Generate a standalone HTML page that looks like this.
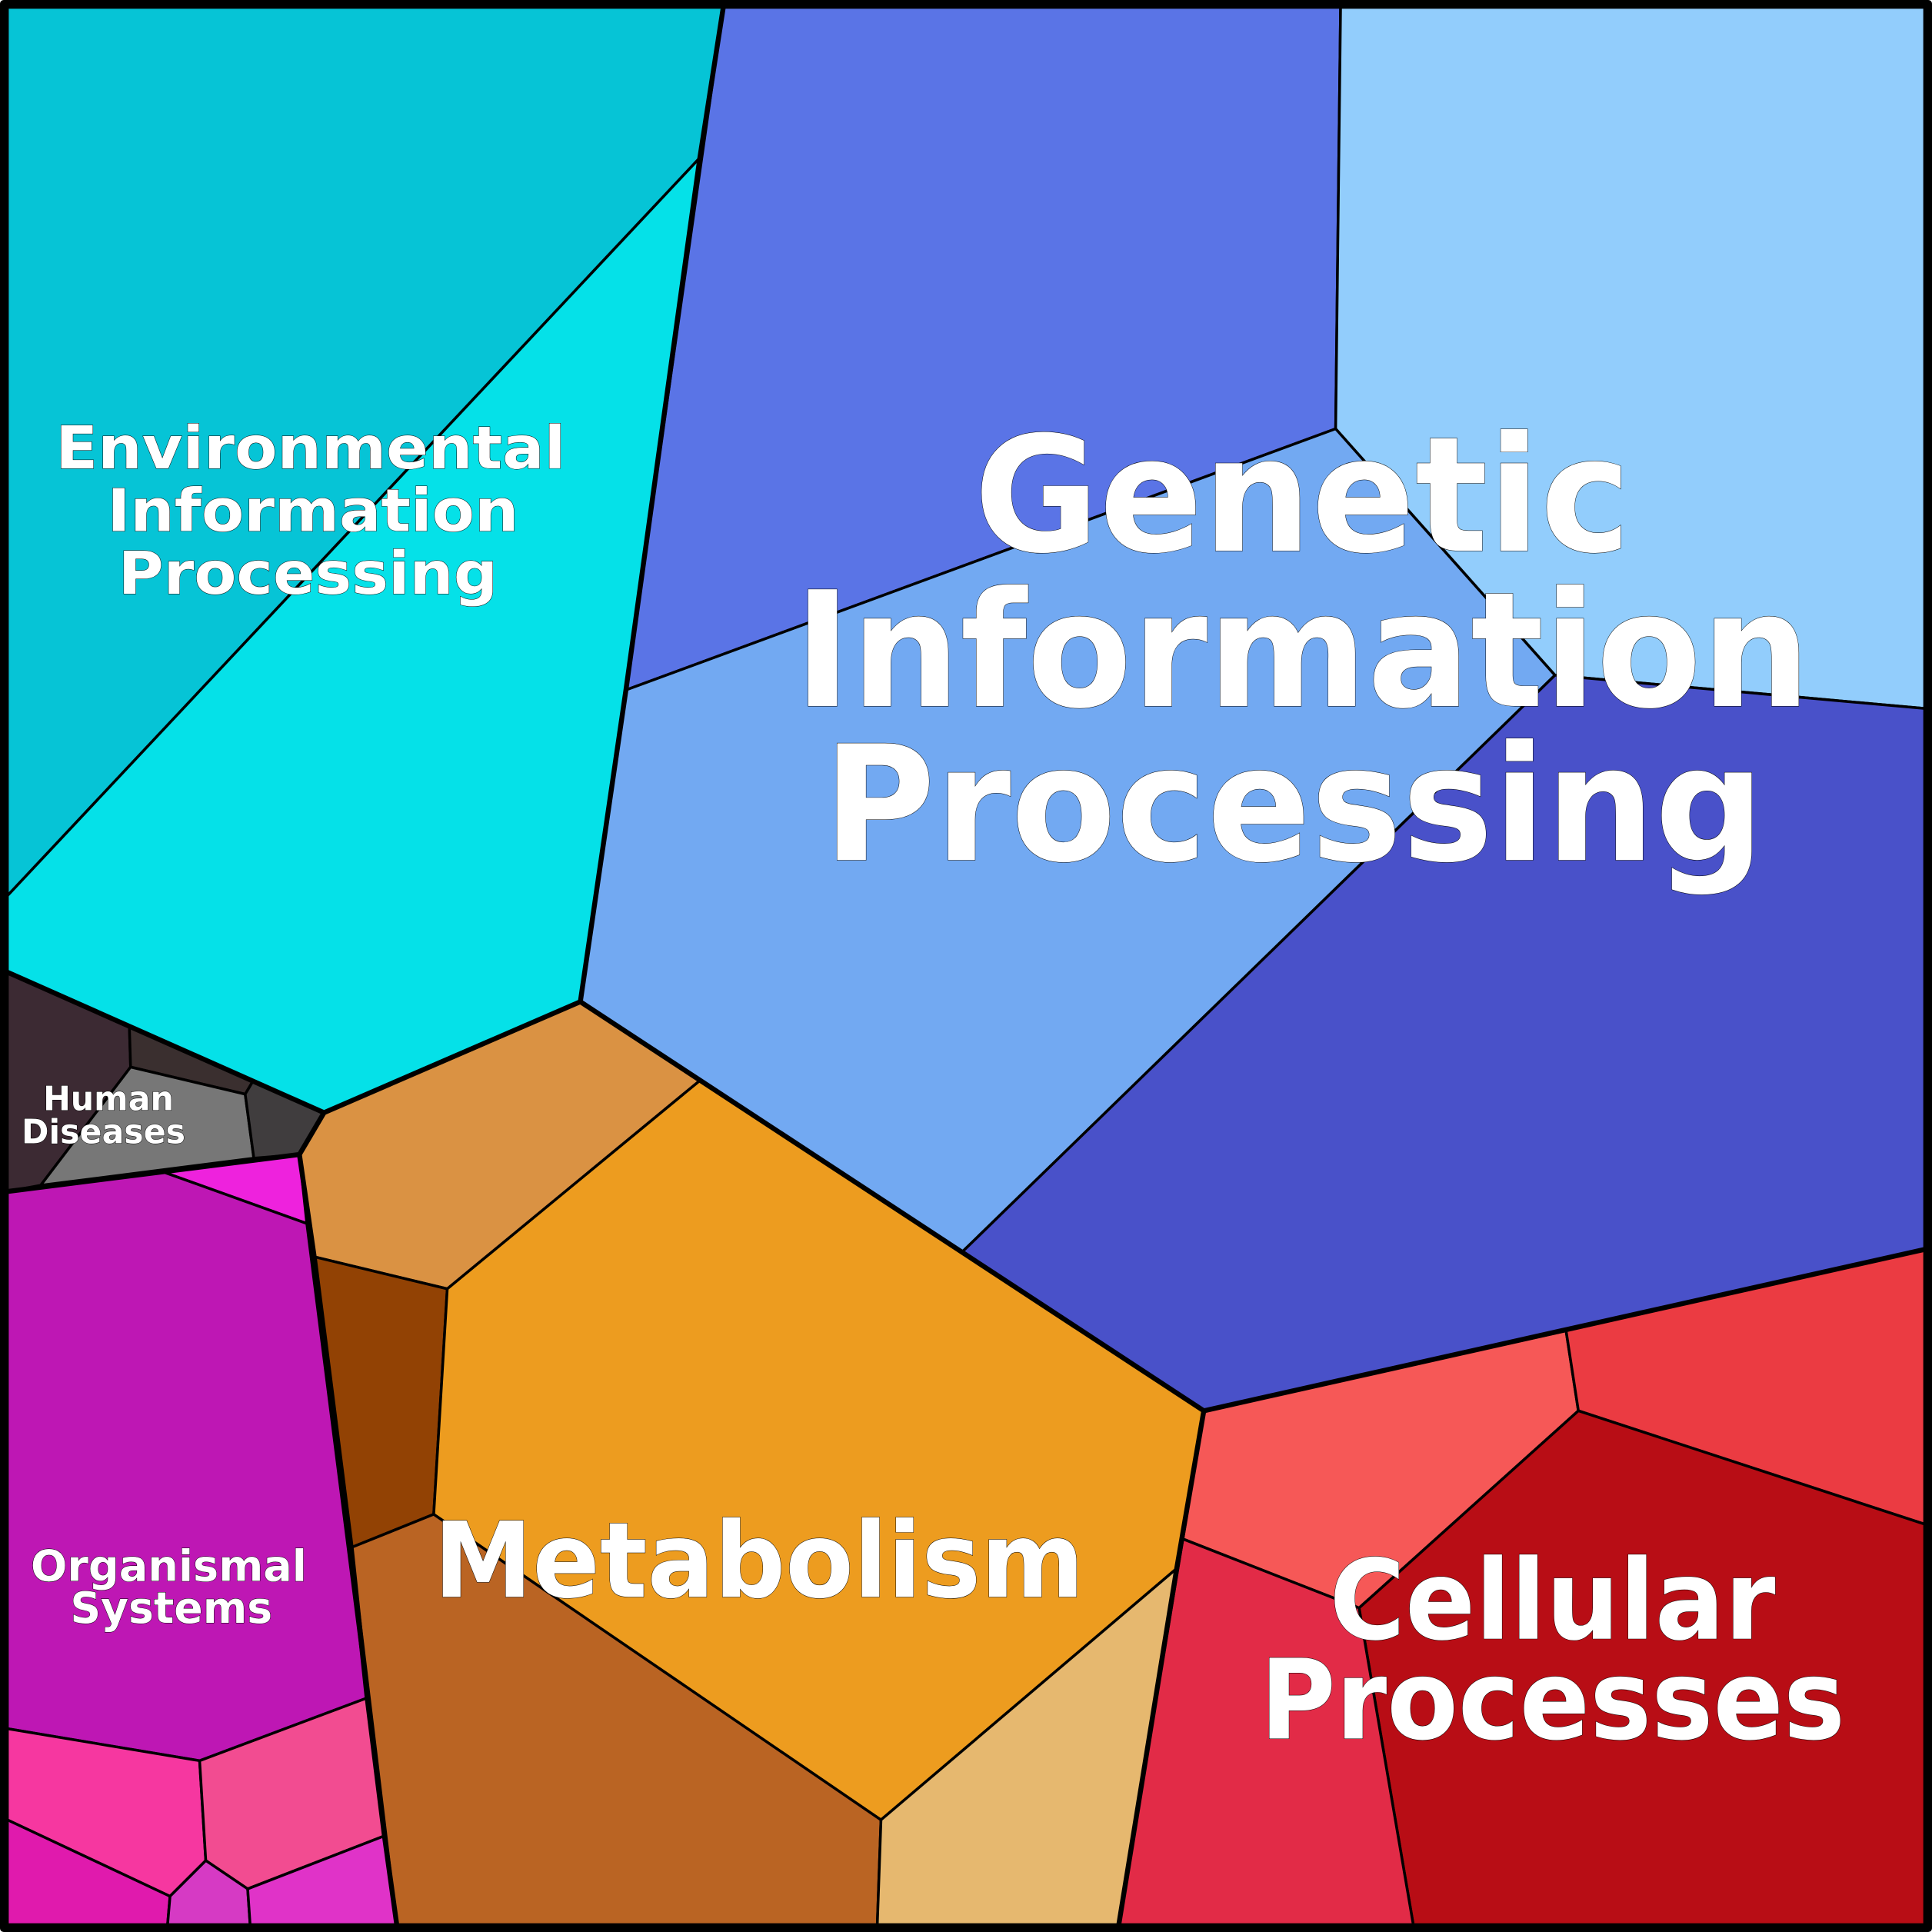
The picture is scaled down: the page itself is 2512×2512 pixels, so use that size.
<!DOCTYPE html>
<html><head><meta charset="utf-8"><style>
html,body{margin:0;padding:0;background:#fff}
svg{display:block}
text{font-family:"DejaVu Sans","Liberation Sans",sans-serif;font-weight:bold;fill:#fff;stroke:#000;stroke-width:0.6;text-anchor:middle;paint-order:stroke}
</style></head><body>
<svg width="2512" height="2512" viewBox="0 0 1568 1568" xmlns="http://www.w3.org/2000/svg">
<g stroke="#000" stroke-width="2.2" stroke-linejoin="round">
<!-- Genetic -->
<polygon fill="#5a74e6" points="587,6 1088,6 1084,348 508,560"/>
<polygon fill="#92cdfc" points="1088,6 1562,6 1562,575 1262,548 1084,348"/>
<polygon fill="#72a9f2" points="1084,348 1262,548 781,1016 568,877 471,813 508,560"/>
<polygon fill="#4951c9" points="1262,548 1562,575 1562,1014 977,1145 781,1016"/>
<!-- Env -->
<polygon fill="#06c4d6" points="6,6 587,6 568,128 6,727"/>
<polygon fill="#05e1e8" points="568,128 508,560 471,813 263,903 6,789 6,727"/>
<!-- Human -->
<polygon fill="#3c2a33" points="6,789 105,833 106,866 33,962 6,967"/>
<polygon fill="#3a2f2f" points="105,833 205,878 199,888 106,866"/>
<polygon fill="#777777" points="106,866 199,888 206,940 33,962"/>
<polygon fill="#403d3e" points="205,878 263,903 243,937 206,940 199,888"/>
<!-- Organismal -->
<polygon fill="#ee22dd" points="132,951 243,937 249,993"/>
<polygon fill="#be17b4" points="6,967 132,951 249,993 298,1378 162,1429 6,1403"/>
<polygon fill="#f637a0" points="6,1403 162,1429 167,1510 138,1539 6,1477"/>
<polygon fill="#f24c91" points="162,1429 298,1378 312,1490 201,1533 167,1510"/>
<polygon fill="#e01aad" points="6,1477 138,1539 136,1562 6,1562"/>
<polygon fill="#d63ac4" points="138,1539 167,1510 201,1533 203,1562 136,1562"/>
<polygon fill="#e033c8" points="201,1533 312,1490 322,1562 203,1562"/>
<!-- Metabolism -->
<polygon fill="#da9243" points="263,903 471,813 568,877 363,1046 255,1020 243,937"/>
<polygon fill="#924204" points="255,1020 363,1046 352,1229 285,1256"/>
<polygon fill="#ed9c1f" points="568,877 977,1145 955,1273 715,1477 352,1229 363,1046"/>
<polygon fill="#ba6423" points="285,1256 352,1229 715,1477 712,1562 322,1562"/>
<polygon fill="#e6b86f" points="715,1477 955,1273 908,1562 712,1562"/>
<!-- Cellular -->
<polygon fill="#f65857" points="977,1145 1271,1080 1281,1145 1103,1305 960,1249"/>
<polygon fill="#eb3b42" points="1271,1080 1562,1014 1562,1237 1281,1145"/>
<polygon fill="#b80d15" points="1281,1145 1562,1237 1562,1562 1147,1562 1103,1305"/>
<polygon fill="#e22b47" points="960,1249 1103,1305 1147,1562 908,1562"/>
</g>
<g fill="none" stroke="#000" stroke-width="4" stroke-linejoin="round">
<polyline points="587,6 568,128 508,560 471,813 977,1145 1562,1014"/>
<polyline points="6,789 263,903 471,813"/>
<polyline points="6,967 243,937 263,903"/>
<polyline points="243,937 255,1020 285,1256 298,1378 312,1490 322,1562"/>
<polyline points="977,1145 955,1273 908,1562"/>
<rect x="3" y="3" width="1562" height="1562" stroke-width="6"/>
</g>
<text x="1057" y="447" font-size="130" textLength="533" lengthAdjust="spacingAndGlyphs">Genetic</text>
<text x="1057" y="573" font-size="130" textLength="825" lengthAdjust="spacingAndGlyphs">Information</text>
<text x="1050" y="698" font-size="130" textLength="764" lengthAdjust="spacingAndGlyphs">Processing</text>
<text x="252" y="380" font-size="48" textLength="414" lengthAdjust="spacingAndGlyphs">Environmental</text>
<text x="254" y="431" font-size="48" textLength="334" lengthAdjust="spacingAndGlyphs">Information</text>
<text x="250" y="482" font-size="48" textLength="308" lengthAdjust="spacingAndGlyphs">Processing</text>
<text x="88" y="901" font-size="27" textLength="106" lengthAdjust="spacingAndGlyphs">Human</text>
<text x="84" y="928" font-size="27" textLength="133" lengthAdjust="spacingAndGlyphs">Diseases</text>
<text x="137" y="1283" font-size="35" textLength="224" lengthAdjust="spacingAndGlyphs">Organismal</text>
<text x="139" y="1317" font-size="35" textLength="164" lengthAdjust="spacingAndGlyphs">Systems</text>
<text x="616" y="1296" font-size="85" textLength="528" lengthAdjust="spacingAndGlyphs">Metabolism</text>
<text x="1260" y="1330" font-size="90" textLength="362" lengthAdjust="spacingAndGlyphs">Cellular</text>
<text x="1260" y="1411" font-size="90" textLength="475" lengthAdjust="spacingAndGlyphs">Processes</text>
</svg>
</body></html>
